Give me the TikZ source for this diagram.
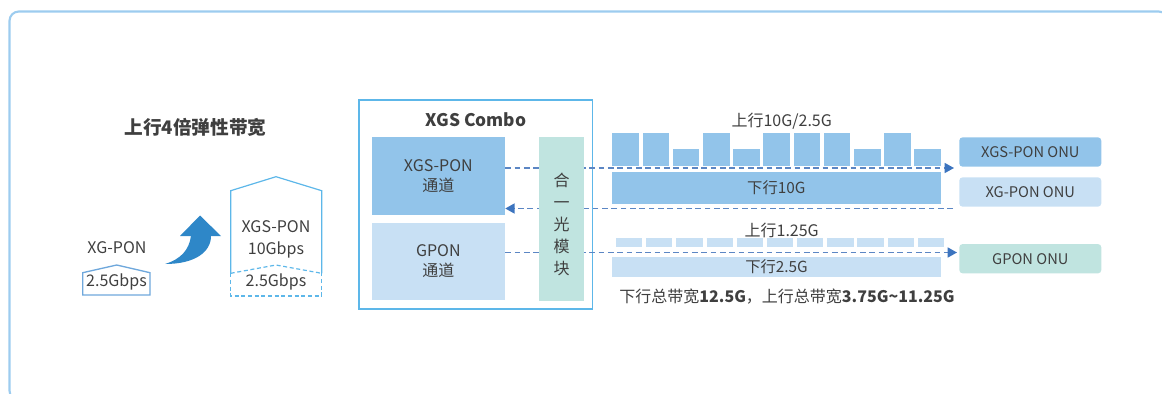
\documentclass[tikz,border=0pt]{standalone}
\usepackage{fontspec}
\setmainfont{Noto Sans CJK SC}
\usetikzlibrary{arrows.meta,positioning}
\definecolor{txtgray}{HTML}{3F3F3F}
\definecolor{framecol}{HTML}{9DCCEF}
\definecolor{combocol}{HTML}{5DB7E9}
\definecolor{housecol}{HTML}{6FA8DC}
\definecolor{xgsfill}{HTML}{92C4EA}
\definecolor{xgfill}{HTML}{C8E0F4}
\definecolor{tealfill}{HTML}{C0E4E0}
\definecolor{dashblue}{HTML}{5B86C4}
\definecolor{tipblue}{HTML}{3C74BF}
\definecolor{bigblue}{HTML}{2E87C8}

\begin{document}
\begin{tikzpicture}[x=0.75pt,y=0.75pt,yscale=-1,xscale=1,
  lbl/.style={text=txtgray,inner sep=0pt,align=center,font=\fontsize{12}{15}\selectfont},
  boldlbl/.style={lbl,font=\fontsize{14}{16}\selectfont\bfseries},
  chanbox/.style={lbl,inner sep=0pt,minimum width=100pt},
  onubox/.style={lbl,rounded corners=2.5pt,minimum width=106.5pt,minimum height=22pt,font=\fontsize{11}{13}\selectfont},
  barbox/.style={lbl,minimum width=246.5pt,font=\fontsize{11.5}{13}\selectfont},
  dashline/.style={draw=dashblue,line width=1.1pt,dash pattern=on 4.2pt off 2.8pt},
  headarrow/.style={-{Triangle[length=7pt,width=7.5pt,color=tipblue]}}]
\useasboundingbox (0,0) rectangle (1162,393);
\clip (0,0) rectangle (1162,393);

%Outer frame
\draw [framecol,line width=1.6pt,rounded corners=7pt] (9.5,11.5) rectangle (1168,400);

% Title
\node [boldlbl] (title) at (195.5,127) {上行4倍弹性带宽};

%Small house: XG-PON
\draw [housecol,line width=1pt] (82.7,295) -- (82.7,272.7) -- (116.7,265) -- (150,272.7) -- (150,295) -- cycle;
% Text Node
\node [lbl] (xglbl) at (117,248) {XG-PON};
% Text Node
\node [lbl] (xgrate) at (116.5,282) {2.5Gbps};

%Curved arrow
\fill [bigblue] (165,264) .. controls (195,264) and (211,252) .. (211,236) -- (221,236) -- (200,215.5) -- (180,236) -- (191,236) .. controls (189,250) and (181,259) .. cycle;

%Big house: XGS-PON
\draw [combocol,line width=0.9pt] (230.7,273.3) -- (230.7,190.7) -- (276,176.7) -- (321.7,190.7) -- (321.7,273.3);
\draw [combocol,line width=0.9pt,dash pattern=on 3pt off 2pt] (230.7,273.3) -- (230.7,296) -- (321.7,296) -- (321.7,273.3);
\draw [combocol,line width=0.9pt,dash pattern=on 3pt off 2pt] (230.7,273.3) -- (276,265) -- (321.7,273.3);
% Text Node
\node [lbl,font=\fontsize{12}{16.3}\selectfont] (xgslbl) at (276,239) {XGS-PON\\10Gbps};
% Text Node
\node [lbl] (xgsrate) at (276,282) {2.5Gbps};

%XGS Combo frame
\draw [combocol,line width=1pt] (359,100) rectangle (592.3,309);
\node [boldlbl,font=\fontsize{13}{15}\selectfont\bfseries] (combo) at (476,120) {XGS Combo};

%Channels
\node [chanbox,fill=xgsfill,minimum height=58.7pt] (xgsch) at (438.3,175.8) {XGS-PON\\通道};
\node [chanbox,fill=xgfill,minimum height=58pt] (gponch) at (438.3,261.3) {GPON\\通道};

%Upstream slots, 10G/2.5G
\foreach \t [count=\i from 0] in {132.7,132.7,149,132.7,149,132.7,132.7,132.7,149,132.7,149}
  \fill [xgsfill] ({612.3+30.2*\i},\t) rectangle ++(26.6,{165.7-\t});
\node [lbl] (upxgs) at (781.7,121.7) {上行10G/2.5G};
\node [barbox,fill=xgsfill,minimum height=24.5pt] (dnxgs) at (776.3,188) {下行10G};

%Upstream slots, 1.25G
\foreach \i in {0,...,10}
  \fill [xgfill] ({616+30.17*\i},238.3) rectangle ++(26.3,9);
\node [lbl] (upgpon) at (781.7,230) {上行1.25G};
\node [barbox,fill=xgfill,minimum height=15pt] (dngpon) at (776.5,266.7) {下行2.5G};

% Text Node
\node [lbl] (total) at (787,297) {下行总带宽\textbf{12.5G}，上行总带宽\textbf{3.75G\textasciitilde11.25G}};

%ONU
\node [onubox,fill=xgsfill] (xgsonu) at (1030.3,152) {XGS-PON ONU};
\node [onubox,fill=xgfill] (xgonu) at (1030.3,192) {XG-PON ONU};
\node [onubox,fill=tealfill] (gpononu) at (1030.3,258.7) {GPON ONU};

%Dashed links
\coordinate (xgsup) at (954,168);
\coordinate (xgsdn) at (953,208.5);
\coordinate (gponup) at (957,252.5);
\draw [dashline,headarrow] (xgsch.east |- xgsup) -- (xgsup);
\draw [dashline,headarrow] (xgsdn) -- (xgsch.east |- xgsdn);
\draw [dashline,headarrow] (gponch.east |- gponup) -- (gponup);

%Optical module, drawn over the links
\node [fill=tealfill,inner sep=0pt,minimum width=33.75pt,minimum height=123.2pt] (optmod) at (561.5,218.8) {};
\node [lbl,font=\fontsize{12}{16.5}\selectfont] (optlbl) at (561.5,224) {合\\一\\光\\模\\块};

\end{tikzpicture}
\end{document}
